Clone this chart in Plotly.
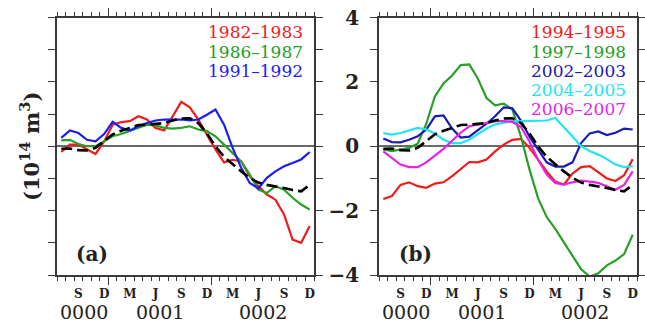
import plotly.graph_objects as go

# month index: 0 = Jul of year 0000 ... 29 = Dec of year 0002 (values at mid-month)
month_index = list(range(30))
month_pos = [m + 0.5 for m in month_index]

# Panel (a)
a_1982 = [-0.18, 0.05, 0.05, -0.10, -0.24, 0.15, 0.67, 0.75, 0.78, 0.93,
          0.83, 0.57, 0.49, 0.93, 1.38, 1.21, 0.83, 0.36, -0.10, -0.50,
          -0.42, -0.47, -0.93, -1.24, -1.50, -1.66, -2.12, -2.90, -3.00, -2.48]
a_1986 = [0.18, 0.20, 0.07, 0.00, 0.00, 0.15, 0.31, 0.38, 0.47, 0.57,
          0.67, 0.65, 0.57, 0.55, 0.57, 0.62, 0.52, 0.47, 0.31, 0.05,
          -0.20, -0.47, -0.88, -1.35, -1.45, -1.24, -1.35, -1.60, -1.81, -1.97]
a_1991 = [0.26, 0.49, 0.41, 0.20, 0.15, 0.38, 0.76, 0.57, 0.49, 0.62,
          0.72, 0.80, 0.83, 0.83, 0.83, 0.80, 0.83, 0.98, 1.14, 0.67,
          -0.05, -0.67, -1.14, -1.31, -0.98, -0.78, -0.62, -0.52, -0.41, -0.18]

# Panel (b)
b_1994 = [-1.64, -1.55, -1.20, -1.12, -1.24, -1.29, -1.16, -1.12, -0.93, -0.72,
          -0.49, -0.50, -0.41, -0.16, 0.05, 0.20, 0.23, -0.05, -0.41, -0.78,
          -1.10, -1.19, -0.85, -0.65, -0.62, -0.80, -1.00, -1.08, -0.90, -0.40]
b_1997 = [-0.10, -0.15, -0.10, -0.05, 0.08, 0.70, 1.55, 1.95, 2.20, 2.52,
          2.54, 2.10, 1.50, 1.27, 1.32, 1.15, 0.30, -0.72, -1.62, -2.20,
          -2.57, -3.00, -3.40, -3.82, -4.05, -3.95, -3.70, -3.55, -3.35, -2.75]
b_2002 = [0.24, 0.13, 0.12, 0.20, 0.31, 0.52, 0.93, 0.96, 0.55, 0.27,
          0.30, 0.50, 0.70, 0.93, 1.21, 1.18, 0.80, 0.30, -0.12, -0.50,
          -0.63, -0.63, -0.50, 0.10, 0.40, 0.46, 0.35, 0.42, 0.55, 0.52]
b_2004 = [0.41, 0.36, 0.41, 0.49, 0.57, 0.52, 0.40, 0.20, 0.10, 0.10,
          0.20, 0.38, 0.55, 0.68, 0.73, 0.78, 0.78, 0.78, 0.78, 0.80,
          0.88, 0.60, 0.30, 0.00, -0.15, -0.26, -0.40, -0.57, -0.65, -0.62]
b_2006 = [-0.16, -0.36, -0.57, -0.65, -0.65, -0.50, -0.30, -0.08, 0.17, 0.42,
          0.62, 0.67, 0.72, 0.78, 0.78, 0.76, 0.60, 0.15, -0.42, -0.88,
          -1.14, -1.19, -1.12, -1.07, -1.10, -1.14, -1.24, -1.35, -1.20, -0.78]

# Composite mean (dashed), same in both panels
composite = [-0.08, -0.07, -0.12, -0.13, -0.05, 0.17, 0.37, 0.48, 0.57, 0.66,
             0.67, 0.70, 0.72, 0.80, 0.86, 0.87, 0.72, 0.40, 0.00, -0.33,
             -0.57, -0.78, -0.98, -1.13, -1.20, -1.24, -1.30, -1.36, -1.40, -1.20]

month_label_pos = [2.5, 5.5, 8.5, 11.5, 14.5, 17.5, 20.5, 23.5, 26.5, 29.5]
month_labels = ["S", "D", "M", "J", "S", "D", "M", "J", "S", "D"]
year_label_pos = [3.1, 12.0, 24.0]
year_labels = ["0000", "0001", "0002"]
year_ticks = [6, 18]
y_ticks = [-4, -2, 0, 2, 4]
y_ticktext = ["\u22124", "\u22122", "0", "2", "4"]

panel_a = [("1982\u20131983", a_1982, "#f01c1c"),
           ("1986\u20131987", a_1986, "#26a026"),
           ("1991\u20131992", a_1991, "#1c1cf5")]
panel_b = [("1994\u20131995", b_1994, "#f01c1c"),
           ("1997\u20131998", b_1997, "#26a026"),
           ("2002\u20132003", b_2002, "#1a1ab4"),
           ("2004\u20132005", b_2004, "#22e4f0"),
           ("2006\u20132007", b_2006, "#e624e6")]

SERIF = "DejaVu Serif"
AX = "#3a3a3a"
W, H = 645, 322

fig = go.Figure()
for name, vals, col in panel_a:
    fig.add_trace(go.Scatter(x=month_pos, y=vals, mode="lines", name=name,
                             line=dict(color=col, width=2.2), xaxis="x", yaxis="y"))
fig.add_trace(go.Scatter(x=month_pos, y=composite, mode="lines", name="mean",
                         line=dict(color="black", width=2.6, dash="11px,5px"),
                         xaxis="x3", yaxis="y"))
for name, vals, col in panel_b:
    fig.add_trace(go.Scatter(x=month_pos, y=vals, mode="lines", name=name,
                             line=dict(color=col, width=2.2), xaxis="x2", yaxis="y2"))
fig.add_trace(go.Scatter(x=month_pos, y=composite, mode="lines", name="mean",
                         line=dict(color="black", width=2.6, dash="11px,5px"),
                         xaxis="x4", yaxis="y2"))

ydom = [47 / H, 304.5 / H]
xdom_a = [57 / W, 314 / W]
xdom_b = [379 / W, 637 / W]


def base_x(dom, anchor):
    return dict(domain=dom, anchor=anchor, range=[0, 30], showline=True, mirror="ticks",
                linecolor=AX, linewidth=1.5, ticks="outside", tickvals=year_ticks,
                ticklen=8, tickwidth=1.3, tickcolor=AX, showticklabels=False,
                showgrid=False, zeroline=False, automargin=False,
                minor=dict(dtick=1, tick0=0, ticks="outside", ticklen=4,
                           tickwidth=1.2, tickcolor=AX, showgrid=False))


def label_x(over, anchor):
    return dict(overlaying=over, anchor=anchor, range=[0, 30], showline=False,
                showgrid=False, zeroline=False, ticks="", tickvals=month_label_pos,
                ticktext=month_labels, ticklabelstandoff=10, automargin=False,
                tickfont=dict(family=SERIF, size=12, color="#222", weight="bold"))


def base_y(anchor, labels):
    return dict(domain=ydom, anchor=anchor, range=[-4, 4], showline=True, mirror="ticks",
                linecolor=AX, linewidth=1.5, ticks="outside", tickvals=y_ticks,
                ticktext=y_ticktext, ticklen=7, tickwidth=1.3, tickcolor=AX,
                showticklabels=labels, ticklabelstandoff=7, automargin=False,
                tickfont=dict(family=SERIF, size=20, color="#222", weight="bold"),
                minor=dict(dtick=1, tick0=0, ticks="outside", ticklen=7,
                           tickwidth=1.3, tickcolor=AX, showgrid=False),
                showgrid=False, zeroline=True, zerolinecolor="#6a6a6a", zerolinewidth=1.8)


annotations = []
for xr in ("x", "x2"):
    for p, t in zip(year_label_pos, year_labels):
        annotations.append(dict(x=p, xref=xr, y=(H - 312) / H, yref="paper", text=t,
                                showarrow=False, xanchor="center", yanchor="middle",
                                font=dict(family=SERIF, size=19, color="#222")))

legend_rows = [32, 51.5, 71, 90, 109]
for (name, _, col), yy in zip(panel_a, legend_rows):
    annotations.append(dict(x=305 / W, y=(H - yy) / H, xref="paper", yref="paper",
                            text=name, showarrow=False, xanchor="right", yanchor="middle",
                            font=dict(family=SERIF, size=17, color=col)))
for (name, _, col), yy in zip(panel_b, legend_rows):
    annotations.append(dict(x=628 / W, y=(H - yy) / H, xref="paper", yref="paper",
                            text=name, showarrow=False, xanchor="right", yanchor="middle",
                            font=dict(family=SERIF, size=17, color=col)))

annotations.append(dict(x=91.5 / W, y=(H - 254) / H, xref="paper", yref="paper", text="(a)",
                        showarrow=False, xanchor="center", yanchor="middle",
                        font=dict(family=SERIF, size=20, color="#222", weight="bold")))
annotations.append(dict(x=415 / W, y=(H - 254) / H, xref="paper", yref="paper", text="(b)",
                        showarrow=False, xanchor="center", yanchor="middle",
                        font=dict(family=SERIF, size=20, color="#222", weight="bold")))
annotations.append(dict(x=30 / W, y=(H - 147) / H, xref="paper", yref="paper",
                        text="(10<sup>14</sup> m<sup>3</sup>)", textangle=-90,
                        showarrow=False, xanchor="center", yanchor="middle",
                        font=dict(family=SERIF, size=21, color="#222", weight="bold")))

fig.update_layout(
    width=W, height=H, margin=dict(l=0, r=0, t=0, b=0, autoexpand=False),
    paper_bgcolor="white", plot_bgcolor="white", showlegend=False,
    xaxis=base_x(xdom_a, "y"), yaxis=base_y("x", False),
    xaxis2=base_x(xdom_b, "y2"), yaxis2=base_y("x2", True),
    xaxis3=label_x("x", "y"), xaxis4=label_x("x2", "y2"),
    annotations=annotations,
)

fig.write_html("out.html", config={"displayModeBar": False},
               post_script="document.body.style.margin='0';document.body.style.overflow='hidden';")
